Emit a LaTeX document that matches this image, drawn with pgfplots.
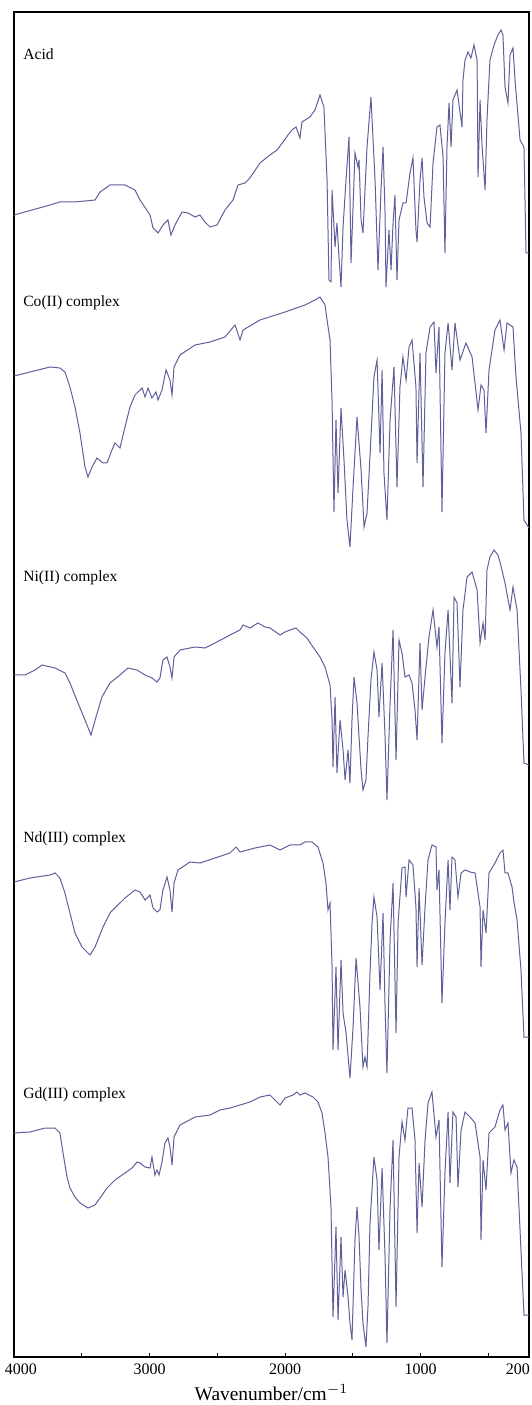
\documentclass[border=0pt]{standalone}
\usepackage{fontspec}
\setmainfont{Liberation Serif}
\usepackage{pgfplots}
\pgfplotsset{compat=1.18}
\definecolor{spec}{RGB}{95,95,155}
\pgfplotsset{spl/.style={spec,line width=0.5pt,mark=none}}

\begin{document}
\begin{tikzpicture}
\begin{axis}[name=ax,scale only axis,width=257.5pt,height=672.5pt,
  x dir=reverse,xmin=200,xmax=4000,ymin=0,ymax=1345,
  xtick={4000,3000,2000,1000,200},
  xticklabels={\rule{7pt}{0pt}4000,3000,2000,1000,200\rule{11pt}{0pt}},
  minor xtick={3500,2500,1500,500},
  ytick=\empty,xtick pos=bottom,tick align=inside,
  major tick length=2pt,minor tick length=2pt,
  axis line style={black,line width=0.7pt},
  every tick/.style={black,line width=0.5pt},
  tick label style={font=\fontsize{8}{9}\selectfont},
  /pgf/number format/assume math mode=true,
  xlabel={Wavenumber/cm$^{-1}$},
  xlabel style={font=\fontsize{9.7}{11}\selectfont,yshift=2pt}]
% Acid
\addplot[spl] coordinates {(4000,1142) (3734,1152) (3661,1155) (3550,1155) (3402,1157)
 (3365,1165) (3292,1172) (3181,1172) (3107,1167) (3070,1157) (2996,1142) (2974,1129)
 (2937,1124) (2901,1132) (2864,1137) (2842,1122) (2812,1132) (2760,1145) (2716,1144)
 (2664,1140) (2628,1142) (2591,1135) (2554,1130) (2502,1132) (2443,1147) (2384,1157)
 (2347,1172) (2295,1174) (2259,1179) (2185,1194) (2111,1202) (2059,1207) (2015,1215)
 (1978,1222) (1949,1227) (1919,1230) (1890,1219) (1875,1235) (1816,1240) (1779,1247)
 (1742,1262) (1713,1250) (1690,1177) (1676,1077) (1661,1075) (1653,1167) (1631,1110)
 (1617,1134) (1602,1100) (1587,1070) (1572,1130) (1550,1177) (1528,1220) (1513,1094)
 (1484,1204) (1462,1190) (1454,1197) (1439,1137) (1425,1124) (1395,1210) (1366,1260)
 (1336,1177) (1314,1087) (1292,1167) (1277,1210) (1262,1144) (1255,1070) (1233,1127)
 (1218,1087) (1203,1134) (1189,1162) (1174,1077) (1159,1137) (1130,1154) (1107,1154)
 (1078,1184) (1056,1199) (1034,1127) (1026,1115) (1004,1177) (989,1199) (975,1160)
 (952,1134) (930,1130) (908,1194) (879,1230) (857,1232) (834,1200) (820,1104)
 (805,1210) (790,1254) (775,1210) (761,1257) (731,1267) (694,1230) (687,1277)
 (672,1297) (650,1305) (628,1299) (606,1312) (583,1297) (576,1180) (561,1257)
 (546,1210) (524,1167) (510,1237) (488,1297) (458,1312) (429,1322) (406,1327)
 (392,1322) (377,1270) (355,1254) (340,1302) (318,1309) (303,1277) (266,1217)
 (237,1210) (222,1104) (200,1104)};
% Co(II)
\addplot[spl] coordinates {(4000,981) (3882,985) (3734,990) (3661,989) (3624,985) (3587,970)
 (3550,950) (3513,924) (3476,890) (3454,880) (3424,890) (3388,899) (3343,894) (3314,894)
 (3277,907) (3255,914) (3218,909) (3181,930) (3144,950) (3107,962) (3055,969) (3033,960)
 (3011,969) (2982,959) (2952,965) (2937,957) (2908,967) (2878,987) (2849,977) (2834,962)
 (2819,990) (2775,1002) (2664,1012) (2554,1015) (2443,1020) (2369,1032) (2332,1017)
 (2310,1027) (2222,1034) (2185,1037) (2000,1045) (1853,1052) (1779,1057) (1742,1060)
 (1705,1052) (1690,1037) (1668,1017) (1653,954) (1639,845) (1624,937) (1609,864)
 (1587,949) (1565,897) (1543,837) (1521,810) (1498,870) (1469,940) (1439,887) (1417,830)
 (1395,844) (1366,920) (1344,980) (1321,997) (1299,904) (1284,987) (1270,884) (1248,837)
 (1225,937) (1196,990) (1174,870) (1152,970) (1130,1000) (1107,977) (1085,1010)
 (1063,1017) (1034,970) (1026,894) (1004,1004) (982,870) (960,1004) (930,1030)
 (901,1035) (886,984) (864,1030) (842,845) (820,1004) (797,1034) (768,987) (746,1034)
 (709,997) (665,1014) (620,1000) (576,947) (554,972) (532,967) (517,924) (495,987)
 (451,1027) (414,1037) (384,1007) (362,1034) (318,1030) (296,980) (259,924) (237,837)
 (200,829)};
% Ni(II)
\addplot[spl] coordinates {(4000,682) (3919,682) (3845,687) (3793,692) (3697,689) (3624,684)
 (3587,674) (3528,654) (3476,637) (3432,622) (3395,640) (3351,660) (3292,674) (3218,682)
 (3159,689) (3092,687) (3033,682) (2982,679) (2945,675) (2923,679) (2901,697) (2871,700)
 (2849,690) (2834,679) (2819,700) (2775,707) (2664,710) (2591,709) (2517,714) (2406,722)
 (2332,727) (2310,732) (2259,729) (2200,734) (2148,730) (2111,729) (2037,722) (2000,725)
 (1963,727) (1919,729) (1890,725) (1838,719) (1794,710) (1742,700) (1705,690) (1668,672)
 (1653,637) (1646,590) (1631,660) (1617,584) (1594,637) (1572,607) (1557,577) (1535,607)
 (1521,574) (1506,637) (1491,680) (1469,654) (1454,620) (1439,587) (1425,567) (1403,577)
 (1388,620) (1366,677) (1344,705) (1321,687) (1307,640) (1284,694) (1262,620) (1248,557)
 (1225,654) (1203,727) (1181,597) (1159,717) (1137,704) (1115,680) (1085,682) (1063,674)
 (1041,647) (1026,617) (1004,714) (989,647) (967,680) (938,720) (908,747) (879,710)
 (864,730) (842,614) (820,704) (797,747) (768,654) (753,760) (731,754) (709,670)
 (687,747) (657,780) (620,785) (583,767) (561,714) (539,734) (524,717) (510,787)
 (488,800) (458,807) (429,802) (414,795) (377,774) (340,747) (318,770) (288,747)
 (259,667) (237,594) (200,592)};
% Nd(III)
\addplot[spl] coordinates {(4000,475) (3882,479) (3734,482) (3697,484) (3661,479) (3624,464)
 (3587,444) (3550,424) (3498,410) (3439,402) (3402,410) (3343,430) (3292,444) (3233,452)
 (3181,459) (3107,467) (3070,465) (3033,457) (2996,462) (2974,449) (2945,445) (2923,447)
 (2901,467) (2871,480) (2849,467) (2834,445) (2819,474) (2790,487) (2701,495) (2628,494)
 (2517,499) (2406,504) (2362,510) (2332,505) (2222,509) (2185,510) (2111,512) (2037,507)
 (1963,512) (1890,512) (1853,515) (1801,515) (1757,510) (1720,494) (1698,474) (1683,447)
 (1668,454) (1653,390) (1646,307) (1624,390) (1609,307) (1587,397) (1572,344) (1550,324)
 (1521,279) (1498,330) (1476,399) (1447,350) (1425,290) (1410,300) (1395,290) (1373,384)
 (1358,434) (1344,460) (1321,440) (1299,367) (1277,444) (1262,350) (1248,284) (1225,417)
 (1203,474) (1181,324) (1166,434) (1137,489) (1115,490) (1107,460) (1085,497) (1056,492)
 (1034,450) (1026,390) (1011,469) (989,392) (967,450) (945,497) (916,512) (886,510)
 (879,467) (864,487) (842,354) (820,434) (797,497) (783,447) (768,500) (746,497)
 (724,460) (701,484) (672,487) (635,485) (598,484) (561,450) (554,390) (539,447)
 (517,424) (495,484) (451,494) (414,504) (392,507) (377,484) (355,484) (325,470)
 (311,455) (288,437) (259,387) (237,320) (200,320)};
% Gd(III)
\addplot[spl] coordinates {(4000,224) (3882,225) (3771,229) (3697,229) (3661,224) (3638,204)
 (3609,180) (3587,169) (3550,160) (3513,154) (3454,149) (3402,152) (3365,159) (3314,169)
 (3255,177) (3181,184) (3129,189) (3092,195) (3070,194) (3033,190) (2996,189) (2982,200)
 (2960,182) (2945,187) (2930,182) (2908,195) (2886,214) (2864,219) (2849,210) (2834,192)
 (2819,220) (2775,232) (2664,240) (2554,242) (2480,247) (2406,249) (2332,252) (2259,255)
 (2185,260) (2111,262) (2037,252) (2000,259) (1941,262) (1912,265) (1890,262) (1853,264)
 (1794,260) (1757,255) (1727,244) (1705,224) (1683,200) (1661,150) (1646,40) (1624,130)
 (1609,37) (1587,120) (1572,60) (1557,87) (1535,60) (1521,34) (1506,17) (1484,117)
 (1469,150) (1454,120) (1439,67) (1425,34) (1403,10) (1388,50) (1373,134) (1344,200)
 (1321,177) (1307,107) (1284,189) (1262,100) (1248,14) (1225,150) (1203,217) (1181,50)
 (1159,200) (1137,235) (1115,217) (1093,249) (1063,249) (1041,217) (1026,124) (1011,194)
 (989,150) (967,217) (945,254) (916,265) (886,220) (864,237) (842,90) (820,184)
 (797,245) (783,174) (761,245) (738,240) (724,170) (701,227) (672,245) (635,240)
 (598,234) (561,200) (554,117) (539,197) (517,167) (495,224) (451,230) (414,247)
 (392,252) (377,227) (355,234) (333,184) (311,197) (288,190) (266,127) (237,42) (200,42)};
\begin{scope}[every node/.style={anchor=west,inner sep=0pt,font=\fontsize{7.8}{9}\selectfont}]
\node at (axis cs:3934,1303) {Acid};
\node at (axis cs:3934,1054) {Co(II) complex};
\node at (axis cs:3934,779) {Ni(II) complex};
\node at (axis cs:3934,518) {Nd(III) complex};
\node at (axis cs:3934,262) {Gd(III) complex};
\end{scope}
\end{axis}
\pgfresetboundingbox
\path ([shift={(-7pt,-24pt)}]ax.south west) rectangle ([shift={(1.5pt,6pt)}]ax.north east);
\end{tikzpicture}
\end{document}
